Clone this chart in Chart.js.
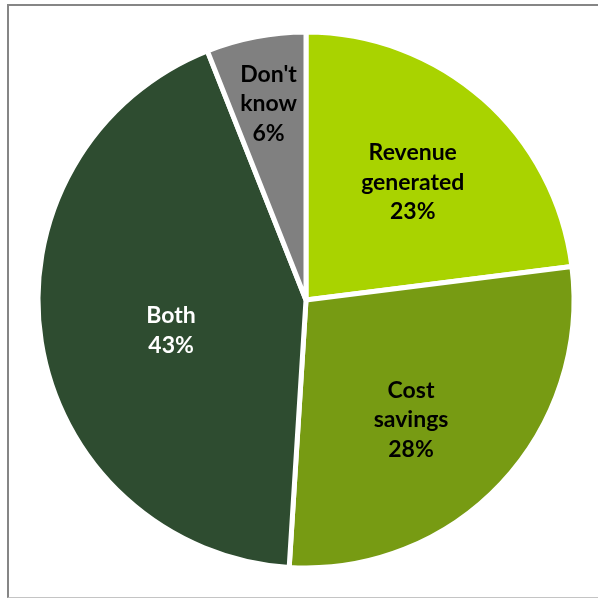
<!DOCTYPE html>
<html>
<head>
<meta charset="utf-8">
<script src="https://cdn.jsdelivr.net/npm/chart.js@4"></script>
<style>
  html, body { margin: 0; padding: 0; background: #fff; }
  #wrap { position: relative; width: 598px; height: 598px; overflow: hidden; }
  #frame {
    position: absolute; left: 7px; top: 4px; width: 600px; height: 591px;
    border-left: 2px solid #868686; border-top: 2px solid #868686;
    border-bottom: 1px solid #c4c4c4;
  }
  #benefitChart { position: absolute; left: 0; top: 0; }
</style>
</head>
<body>
<div id="wrap">
  <div id="frame"></div>
  <canvas id="benefitChart" width="598" height="598"></canvas>
</div>
<script>
const categories = ['Revenue generated', 'Cost savings', 'Both', "Don't know"];
const shares = [23, 28, 43, 6];
const sliceColors = ['#a9d300', '#779b13', '#2e4c30', '#808080'];
const labelColors = ['#000', '#000', '#fff', '#000'];
// label lines per slice (category wrapped like the data labels)
const labelLines = [['Revenue', 'generated'], ['Cost', 'savings'], ['Both'], ["Don't", 'know']];
// label placement: fraction of the radius, and a small turn (degrees) off the slice middle
const labelRadius = [0.593, 0.595, 0.516, 0.745];
const labelTurn = [0.8, 5.6, -3.7, 0];

const sliceLabels = {
    id: 'sliceLabels',
    afterDatasetsDraw(chart) {
        const { ctx } = chart;
        const arcs = chart.getDatasetMeta(0).data;
        ctx.save();
        ctx.font = 'bold 23px Lato';
        ctx.textAlign = 'center';
        ctx.textBaseline = 'middle';
        arcs.forEach((arc, i) => {
            const { x, y, startAngle, endAngle, outerRadius } = arc.getProps(['x', 'y', 'startAngle', 'endAngle', 'outerRadius'], true);
            const mid = (startAngle + endAngle) / 2 + labelTurn[i] * Math.PI / 180;
            const r = outerRadius * labelRadius[i];
            const cx = x + Math.cos(mid) * r;
            const cy = y + Math.sin(mid) * r;
            const lines = [...labelLines[i], shares[i] + '%'];
            const lh = 29.5;
            ctx.fillStyle = labelColors[i];
            lines.forEach((line, j) => {
                ctx.fillText(line, cx, cy + (j - (lines.length - 1) / 2) * lh);
            });
        });
        ctx.restore();
    },
};

new Chart(document.getElementById('benefitChart'), {
    type: 'pie',
    data: {
        labels: categories,
        datasets: [
            {
                data: shares,
                backgroundColor: sliceColors,
                borderColor: '#fff',
                borderWidth: 5,
                radius: 268,
                hoverOffset: 0,
            },
        ],
    },
    options: {
        responsive: false,
        animation: false,
        layout: { padding: { left: 14, top: 2, right: 0, bottom: 0 } },
        plugins: {
            legend: { display: false },
            tooltip: { enabled: false },
        },
    },
    plugins: [sliceLabels],
});
</script>
</body>
</html>
